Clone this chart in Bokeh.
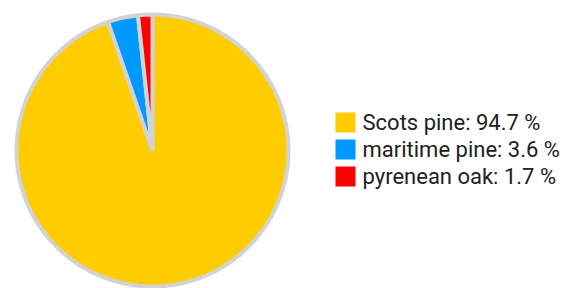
import math
from bokeh.plotting import figure
from bokeh.models import Range1d, ColumnDataSource
from bokeh.core.properties import value
from bokeh.embed import file_html
from bokeh.resources import INLINE

species = ["Scots pine", "maritime pine", "pyrenean oak"]
shares = [94.7, 3.6, 1.7]
colors = ["#ffcc00", "#0099ff", "#ff0000"]

W, H = 568, 288
p = figure(width=W, height=H, output_backend="svg", toolbar_location=None,
           x_range=Range1d(0, W), y_range=Range1d(0, H), min_border=0)
p.axis.visible = False
p.grid.visible = False
p.outline_line_color = None
p.background_fill_color = "white"
p.border_fill_color = "white"

total = sum(shares)
starts, ends = [], []
a = math.pi / 2
for s in shares:
    starts.append(a)
    a -= s / total * 2 * math.pi
    ends.append(a)

src = ColumnDataSource(dict(start=starts, end=ends, color=colors))
p.wedge(x=152, y=H - 150, radius=136, radius_units="screen", start_angle="start",
        end_angle="end", direction="clock", fill_color="color",
        line_color="#d3d3d3", line_width=4, source=src)

labels = [f"{n}: {v} %" for n, v in zip(species, shares)]
ys = [H - 122 - 27 * i for i in range(len(species))]
lsrc = ColumnDataSource(dict(y=ys, color=colors, label=labels))
p.rect(x=345, y="y", width=20, height=20, width_units="screen", height_units="screen",
       fill_color="color", line_color=None, source=lsrc)
p.text(x=362, y="y", text="label", text_font=value("Roboto"), text_font_size="22px",
       text_baseline="middle", text_align="left", text_color="#212121", source=lsrc)

open("out.html", "w").write(file_html(p, INLINE))
